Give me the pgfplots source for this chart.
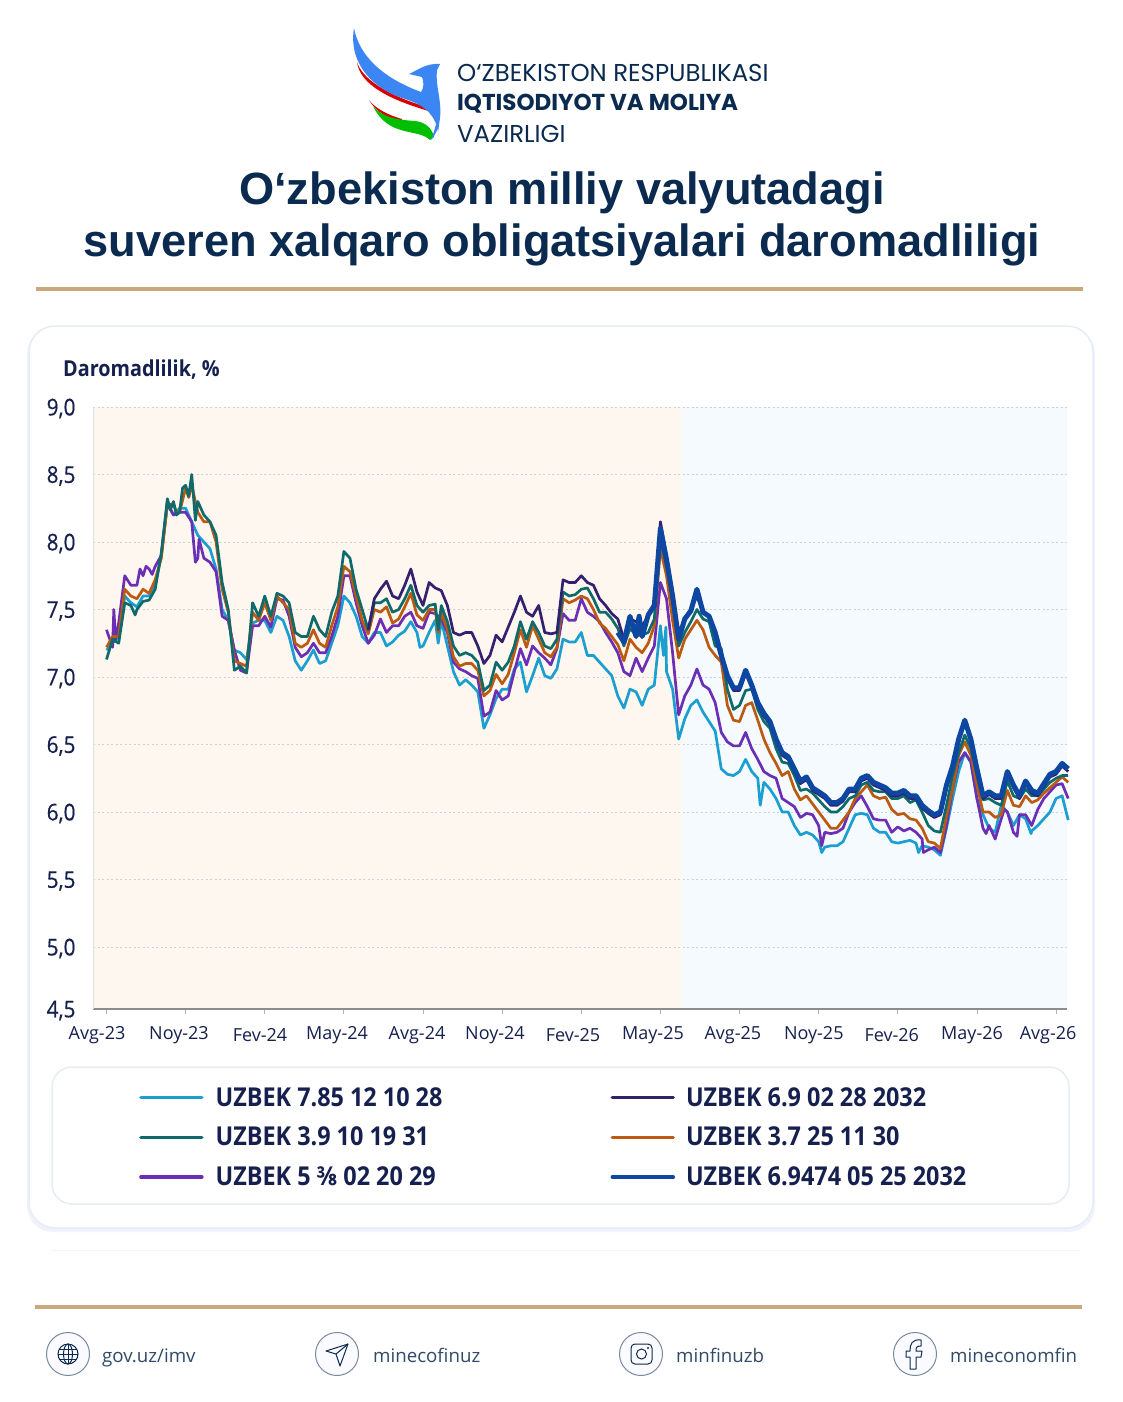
\documentclass[border=0pt]{standalone}
\usepackage{fontspec}
\usepackage{pgfplots}
\usepackage{pgfplotstable}
\pgfplotsset{compat=1.18}
\setmainfont{Liberation Sans}
\newfontfamily\pop{Poppins}
\newfontfamily\cf[FakeStretch=0.9]{Open Sans}
\newfontfamily\cg[FakeStretch=0.9,FakeBold=0.5]{Open Sans}
\newfontfamily\ft{Open Sans}

\definecolor{navytxt}{HTML}{0B2A4F}
\definecolor{charttxt}{HTML}{16204F}
\definecolor{gold}{HTML}{C9A97C}
\definecolor{cB}{HTML}{1A9FD0}
\definecolor{cT}{HTML}{0F6B6B}
\definecolor{cP}{HTML}{6A2FB5}
\definecolor{cD}{HTML}{33206F}
\definecolor{cO}{HTML}{BB5A10}
\definecolor{cN}{HTML}{0D47A1}
\definecolor{wing}{HTML}{3B86F2}
\definecolor{peach}{HTML}{FEF7EF}
\definecolor{ice}{HTML}{F5FAFE}
\definecolor{cardline}{HTML}{E6ECF6}
\newcommand\low[1]{\raisebox{-2pt}[\height][\depth]{#1}}

% weekly yields, w = weeks since Aug-23; rows with a fraction only hold the sharp spikes
\pgfplotstableread{
w b t p d o n
0 7.20 7.13 7.35 nan 7.22 nan
1 7.25 7.28 7.22 nan 7.30 nan
1.2 nan nan 7.50 nan nan nan
1.5 nan nan 7.28 nan nan nan
2 7.30 7.25 7.40 nan 7.30 nan
3 7.60 7.55 7.75 nan 7.65 nan
4 7.55 7.53 7.68 nan 7.60 nan
4.7 nan 7.46 nan nan nan nan
5 7.52 7.50 7.68 nan 7.58 nan
5.5 nan nan 7.80 nan nan nan
6 7.60 7.56 7.75 nan 7.65 nan
6.5 nan nan 7.82 nan nan nan
7 7.60 7.57 7.80 nan 7.62 nan
7.5 nan nan 7.76 nan nan nan
8 7.68 7.65 7.82 nan 7.72 nan
9 7.90 7.92 7.90 nan 7.88 nan
10 8.30 8.32 8.28 nan 8.28 nan
10.5 nan 8.24 nan nan nan nan
11 8.20 8.30 8.20 nan 8.28 nan
11.5 nan 8.20 nan nan 8.22 nan
12 8.25 8.22 8.22 nan 8.22 nan
12.5 nan 8.40 nan nan nan nan
13 8.25 8.42 8.22 nan 8.40 nan
13.5 nan 8.34 nan nan 8.33 nan
14 8.15 8.50 8.15 nan 8.42 nan
14.6 nan 8.16 7.85 nan nan nan
15 8.05 8.30 7.88 nan 8.22 nan
15.2 nan nan 8.02 nan nan nan
16 8.00 8.20 7.88 nan 8.15 nan
17 7.95 8.15 7.85 nan 8.15 nan
18 7.80 8.05 7.78 nan 8.00 nan
19 7.50 7.70 7.45 nan 7.65 nan
20 7.42 7.50 7.42 nan 7.48 nan
21 7.20 7.05 7.20 nan 7.12 nan
22 7.18 7.08 7.05 nan 7.10 nan
23 7.13 7.03 7.03 nan 7.08 nan
24 7.40 7.55 7.38 nan 7.48 nan
25 7.42 7.45 7.38 nan 7.42 nan
26 7.42 7.60 7.45 nan 7.55 nan
27 7.33 7.45 7.37 nan 7.42 nan
28 7.45 7.62 7.58 nan 7.60 nan
29 7.42 7.60 7.57 nan 7.55 nan
30 7.30 7.55 7.45 nan 7.50 nan
31 7.12 7.33 7.22 nan 7.25 nan
32 7.05 7.30 7.15 nan 7.22 nan
33 7.12 7.30 7.18 nan 7.25 nan
34 7.20 7.45 7.25 nan 7.35 nan
35 7.10 7.35 7.18 nan 7.25 nan
36 7.12 7.30 7.18 nan 7.22 nan
37 7.25 7.48 7.30 nan 7.38 nan
38 7.38 7.60 7.45 nan 7.52 nan
39 7.60 7.93 7.75 nan 7.82 nan
40 7.55 7.88 7.75 nan 7.78 nan
41 7.45 7.65 7.55 nan 7.60 nan
42 7.30 7.50 7.38 nan 7.42 nan
43 7.25 7.35 7.25 7.35 7.32 nan
44 7.33 7.55 7.31 7.58 7.50 nan
45 7.33 7.55 7.43 7.65 7.48 nan
46 7.23 7.58 7.33 7.71 7.52 nan
47 7.26 7.48 7.38 7.60 7.40 nan
48 7.31 7.50 7.38 7.58 7.43 nan
49 7.34 7.58 7.45 7.68 7.52 nan
50 7.41 7.68 7.48 7.80 7.62 nan
51 7.33 7.53 7.38 7.63 7.46 nan
51.5 7.22 nan nan nan nan nan
52 7.23 7.48 7.36 7.53 7.42 nan
53 7.33 7.53 7.48 7.70 7.50 nan
54 7.42 7.54 7.47 7.66 7.50 nan
54.5 7.25 7.35 nan nan 7.33 nan
55 7.42 7.53 7.43 7.64 7.48 nan
56 7.23 7.41 7.33 7.53 7.35 nan
57 7.04 7.23 7.11 7.33 7.15 nan
58 6.94 7.16 7.06 7.31 7.08 nan
59 6.98 7.18 7.04 7.33 7.10 nan
60 6.94 7.16 7.01 7.33 7.10 nan
61 6.89 7.11 6.99 7.23 7.05 nan
62 6.62 6.90 6.71 7.10 6.86 nan
63 6.72 6.94 6.74 7.16 6.90 nan
64 6.84 7.11 6.90 7.31 7.02 nan
65 6.91 7.05 6.83 7.26 6.95 nan
66 6.91 7.11 6.86 7.37 7.02 nan
67 7.06 7.23 7.04 7.48 7.18 nan
68 7.11 7.41 7.21 7.60 7.35 nan
69 6.89 7.28 7.09 7.48 7.22 nan
70 7.01 7.41 7.23 7.45 7.38 nan
71 7.14 7.33 7.18 7.53 7.28 nan
72 7.01 7.23 7.14 7.33 7.18 nan
73 6.99 7.21 7.09 7.32 7.15 nan
74 7.06 7.28 7.21 7.33 7.22 nan
75 7.28 7.63 7.47 7.72 7.58 nan
76 7.26 7.60 7.42 7.70 7.55 nan
77 7.26 7.61 7.42 7.70 7.57 nan
78 7.33 7.65 7.58 7.75 7.60 nan
79 7.16 7.66 7.48 7.70 7.58 nan
80 7.16 7.58 7.45 7.68 7.50 nan
81 7.11 7.48 7.41 7.58 7.40 nan
82 7.06 7.48 7.33 7.53 7.36 nan
83 7.01 7.43 7.26 7.47 7.30 nan
84 6.86 7.36 7.18 7.43 7.24 7.33
85 6.77 7.23 7.04 7.28 7.12 7.26
86 6.91 7.36 7.01 7.43 7.28 7.45
87 6.89 7.31 7.14 7.41 7.22 7.30
87.5 nan nan nan nan nan 7.45
88 6.79 7.31 7.04 7.38 7.18 7.30
89 6.91 7.33 7.14 7.45 7.25 7.46
90 6.94 7.43 7.23 7.55 7.38 7.53
91 7.38 8.02 7.70 8.15 7.95 8.10
91.5 7.16 nan nan nan nan nan
91.9 7.37 nan nan nan nan nan
92 7.04 7.82 7.58 7.90 7.75 7.87
93 6.91 7.58 7.18 7.63 7.42 7.60
94 6.54 7.23 6.72 7.28 7.14 7.28
95 6.69 7.33 6.86 7.43 7.28 7.43
96 6.79 7.41 6.94 7.50 7.35 7.49
97 6.83 7.50 7.06 7.60 7.42 7.65
98 6.74 7.43 6.94 7.48 7.35 7.48
99 6.67 7.41 6.91 7.45 7.22 7.45
100 6.60 7.23 6.81 7.31 7.16 7.33
101 6.32 7.21 6.59 7.14 7.11 7.16
102 6.28 6.91 6.52 6.99 6.79 7.01
103 6.27 6.76 6.49 6.90 6.68 6.92
104 6.30 6.79 6.49 6.90 6.67 6.92
105 6.39 6.90 6.59 7.03 6.79 7.05
106 6.30 6.91 6.47 6.92 6.81 6.94
107 6.25 6.76 6.39 6.79 6.68 6.81
107.4 6.05 nan nan nan nan nan
108 6.22 6.67 6.30 6.71 6.54 6.73
109 6.17 6.62 6.27 6.65 6.44 6.67
110 6.10 6.47 6.25 6.52 6.36 6.54
111 6.00 6.37 6.10 6.42 6.27 6.44
112 6.00 6.36 6.07 6.39 6.30 6.41
113 5.90 6.27 6.04 6.30 6.17 6.32
114 5.83 6.16 5.96 6.21 6.09 6.23
115 5.85 6.17 5.99 6.24 6.12 6.26
116 5.83 6.14 5.98 6.16 6.06 6.18
117 5.78 6.09 5.90 6.13 6.00 6.15
117.5 5.70 nan 5.75 nan nan nan
118 5.74 6.04 5.85 6.10 5.94 6.12
119 5.75 6.00 5.84 6.05 5.88 6.07
120 5.75 6.00 5.85 6.05 5.88 6.07
121 5.78 6.04 5.88 6.08 5.94 6.10
122 5.88 6.10 6.00 6.15 6.00 6.17
123 5.98 6.12 6.07 6.15 6.10 6.17
124 5.99 6.20 6.12 6.23 6.15 6.25
125 5.98 6.22 6.04 6.25 6.20 6.27
126 5.88 6.16 5.95 6.20 6.12 6.22
127 5.85 6.15 5.94 6.18 6.10 6.20
128 5.85 6.15 5.94 6.16 6.11 6.18
129 5.78 6.10 5.85 6.12 6.02 6.14
130 5.77 6.10 5.89 6.12 5.98 6.14
131 5.78 6.12 5.86 6.14 5.99 6.16
132 5.79 6.07 5.88 6.10 5.95 6.12
133 5.77 6.09 5.85 6.10 5.94 6.12
133.4 5.70 nan nan nan nan nan
134 5.75 6.00 5.80 6.03 5.88 6.05
134.2 nan nan 5.70 nan nan nan
135 5.74 5.90 5.72 5.99 5.78 6.01
136 5.72 5.86 5.74 5.96 5.77 5.98
137 5.68 5.85 5.70 5.98 5.73 6.00
138 5.88 6.05 5.90 6.18 5.97 6.20
139 6.10 6.27 6.17 6.32 6.17 6.34
140 6.30 6.44 6.37 6.52 6.42 6.54
141 6.44 6.57 6.44 6.66 6.52 6.68
142 6.37 6.47 6.37 6.52 6.42 6.54
143 6.10 6.27 6.10 6.30 6.20 6.32
144 5.98 6.09 5.88 6.10 6.00 6.12
144.5 nan nan 5.84 nan nan nan
145 5.88 6.10 5.90 6.13 6.00 6.15
146 5.85 6.07 5.80 6.10 5.96 6.12
147 6.05 6.05 5.95 6.10 5.98 6.12
147.5 nan nan 6.02 nan nan nan
148 6.00 6.23 6.00 6.28 6.16 6.30
149 5.90 6.12 5.85 6.18 6.05 6.20
149.6 nan nan 5.82 nan nan nan
150 5.98 6.10 5.98 6.10 6.04 6.12
151 5.95 6.17 5.98 6.21 6.12 6.23
151.9 5.84 nan nan nan nan nan
152 5.86 6.12 5.90 6.14 6.07 6.16
153 5.90 6.12 6.02 6.12 6.09 6.14
154 5.95 6.17 6.10 6.19 6.14 6.21
155 6.00 6.22 6.15 6.26 6.18 6.28
156 6.10 6.25 6.20 6.28 6.22 6.30
157 6.12 6.27 6.21 6.34 6.26 6.36
158 5.94 6.27 6.10 6.30 6.22 6.32
}\yields

\begin{document}
\begin{tikzpicture}
\path[use as bounding box,fill=white] (0,0) rectangle (1122pt,-1402pt);

\begin{scope}[x=1pt,y=-1pt]
% logo
\fill[red!85!black] (357,62) .. controls (362,78) and (385,95) .. (430,108) -- (432,112) .. controls (390,100) and (360,85) .. (357,62) -- cycle;
\fill[wing] (354,28) .. controls (358,50) and (375,75) .. (421,92) .. controls (424,88) and (424,82) .. (422,77)
  -- (409,74) .. controls (418,70) and (426,63) .. (440,64) -- (437,70) .. controls (435,85) and (442,100) .. (440,118) -- (438,132)
  .. controls (436,118) and (428,106) .. (405,99) .. controls (375,90) and (348,65) .. (354,28) -- cycle;
\fill[red!85!black] (369,100) .. controls (378,112) and (398,118) .. (402,119) -- (402,121) .. controls (388,119) and (376,112) .. (369,100) -- cycle;
\fill[green!75!black] (373,106) .. controls (382,118) and (400,120) .. (415,121) .. controls (425,122) and (432,128) .. (434,137) -- (430,140)
  .. controls (418,128) and (388,138) .. (373,106) -- cycle;
\fill[wing] (438,116) .. controls (440,125) and (437,133) .. (431,140) .. controls (434,132) and (436,125) .. (438,116) -- cycle;
\node[anchor=west,text=navytxt,inner sep=0pt] at (457,72.5) {\pop\fontsize{24.4}{26}\selectfont O‘ZBEKISTON RESPUBLIKASI};
\node[anchor=west,text=navytxt,inner sep=0pt] at (457,103.5) {\pop\bfseries\fontsize{23}{26}\selectfont IQTISODIYOT VA MOLIYA};
\node[anchor=west,text=navytxt,inner sep=0pt] at (457,133.5) {\pop\fontsize{24.4}{26}\selectfont VAZIRLIGI};
% title
\node[text=navytxt,inner sep=0pt] at (562,193) {\bfseries\fontsize{45.2}{50}\selectfont O‘zbekiston milliy valyutadagi};
\node[text=navytxt,inner sep=0pt] at (562,245) {\bfseries\fontsize{45.2}{50}\selectfont suveren xalqaro obligatsiyalari daromadliligi};
\fill[gold] (36,287) rectangle (1083,291);
% card
\fill[rounded corners=26pt,fill=cardline!60] (27,328) rectangle (1095,1232);
\draw[rounded corners=26pt,fill=white,draw=cardline,line width=1.5pt] (29,326) rectangle (1093,1228);
\fill[fill=peach] (93,407) rectangle (681,1009);
\fill[fill=ice] (681,407) rectangle (1067,1009);
\node[anchor=west,text=charttxt,inner sep=0pt] at (63,370) {\cf\bfseries\fontsize{22}{24}\selectfont Daromadlilik, \%};
\draw[rounded corners=20pt,draw=cardline,line width=1.5pt] (52,1067) rectangle (1069,1204);
\draw[black!4,line width=1pt] (50,1250) -- (1080,1250);
\fill[gold] (35,1305) rectangle (1082,1309);
% footer
\foreach \cx in {68,337,641,915} {\draw[fill=blue!2,draw=navytxt!55,line width=1pt] (\cx,1354) circle (21.5);}
\begin{scope}[draw=navytxt,line width=1pt]
\draw (68,1354) circle (10); \draw (68,1354) ellipse (4.5 and 10); \draw (58,1354) -- (78,1354); \draw (59,1349) -- (77,1349); \draw (59,1359) -- (77,1359); \draw (68,1344) -- (68,1364);
\draw[line join=round] (326,1351) -- (348,1344) -- (340,1366) -- (336,1354) -- cycle; \draw (336,1354) -- (348,1344);
\draw[rounded corners=4pt] (631,1344) rectangle (652,1364); \draw (641.5,1354) circle (5); \fill[navytxt] (648,1348) circle (1.2);
\draw[line join=round] (921,1340) .. controls (912,1339) and (910,1344) .. (910,1351) -- (906,1351) -- (906,1357) -- (910,1357) -- (910,1369) -- (916,1369) -- (916,1357) -- (921,1357) -- (922,1351) -- (916,1351) .. controls (916,1347) and (917,1346) .. (921,1346) -- cycle;
\end{scope}
\foreach \tx/\ty in {102/gov.uz\slash imv,373/minecofinuz,676/minfinuzb,950/mineconomfin}
  {\node[anchor=base west,text=navytxt!85,inner sep=0pt] at (\tx,1362) {\ft\fontsize{18.7}{20}\selectfont \ty};}
\end{scope}

\begin{axis}[
  at={(93pt,-1009pt)},anchor=south west,
  scale only axis,width=974pt,height=602pt,
  xmin=-2.22,xmax=157.8,ymin=4.541,ymax=9,
  clip=false,axis lines*=left,
  x axis line style={-,draw=black!45,line width=1.6pt},
  y axis line style={-,draw=black!12,line width=1pt},
  xtick={0,13,...,156},xticklabels={},
  major tick length=5pt,tick align=outside,
  xtick style={draw=black!30,line width=0.8pt},
  ytick style={draw=none},
  extra x ticks={-1.56,11.91,25.22,37.87,51.01,63.82,76.64,89.78,102.9,116.2,129.0,142.2,154.7},
  extra x tick labels={Avg-23,Noy-23,\low{Fev-24},May-24,Avg-24,Noy-24,\low{Fev-25},May-25,Avg-25,Noy-25,\low{Fev-26},May-26,Avg-26},
  extra x tick style={major tick length=0pt,tick style={draw=none},xmajorgrids=false},
  xticklabel style={text=charttxt,font=\ft\fontsize{18}{20}\selectfont,yshift=-14pt},
  ytick={4.541,5,5.5,6,6.5,7,7.5,8,8.5,9},
  yticklabels={\raisebox{2.5pt}{4,5},{5,0},{5,5},{6,0},{6,5},{7,0},{7,5},{8,0},{8,5},{9,0}},
  yticklabel style={text=charttxt,font=\cg\fontsize{23}{25}\selectfont,xshift=-9pt,yshift=-1.5pt},
  ymajorgrids,grid style={draw=black!18,line width=0.8pt,dash pattern=on 2pt off 2.5pt},
  legend cell align=left,legend columns=3,transpose legend,
  legend style={at={(46pt,-76pt)},anchor=north west,draw=none,fill=none,inner sep=0pt,
    font=\cf\bfseries\fontsize{26}{28}\selectfont,text=charttxt,row sep=15.5pt},
  legend image code/.code={\draw[#1,line cap=round,line width=3.4pt] (0pt,0pt) -- (61pt,0pt);},
  every axis plot/.append style={line width=2.7pt,line join=round,no markers},
  unbounded coords=discard,
]
\addlegendimage{cB}\addlegendentry{\makebox[403pt][l]{\hspace*{10pt}UZBEK 7.85 12 10 28}}
\addlegendimage{cT}\addlegendentry{\makebox[403pt][l]{\hspace*{10pt}UZBEK 3.9 10 19 31}}
\addlegendimage{cP}\addlegendentry{\makebox[403pt][l]{\hspace*{10pt}UZBEK 5 ⅜ 02 20 29}}
\addlegendimage{cD}\addlegendentry{\hspace*{9pt}UZBEK 6.9 02 28 2032}
\addlegendimage{cO}\addlegendentry{\hspace*{9pt}UZBEK 3.7 25 11 30}
\addlegendimage{cN}\addlegendentry{\hspace*{9pt}UZBEK 6.9474 05 25 2032}
\addplot[cB,forget plot] table[x=w,y=b] {\yields};
\addplot[cP,forget plot] table[x=w,y=p] {\yields};
\addplot[cO,forget plot] table[x=w,y=o] {\yields};
\addplot[cT,forget plot] table[x=w,y=t] {\yields};
\addplot[cD,forget plot] table[x=w,y=d] {\yields};
\addplot[cN,line width=5pt,forget plot] table[x=w,y=n] {\yields};
\end{axis}
\end{tikzpicture}
\end{document}
